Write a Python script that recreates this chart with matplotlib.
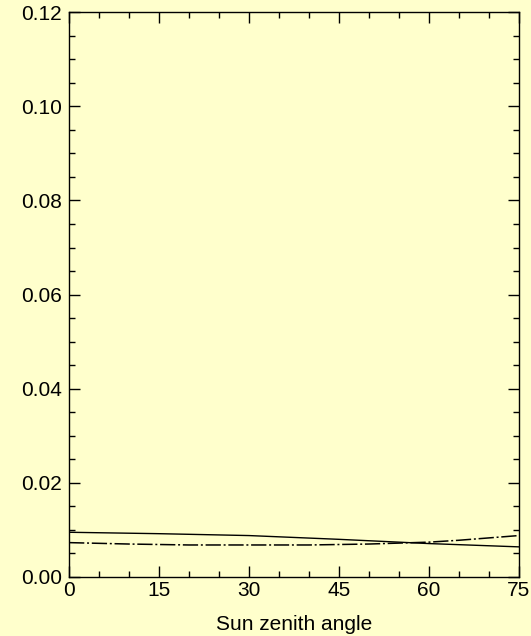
import matplotlib
matplotlib.use("Agg")
import matplotlib.pyplot as plt
from matplotlib.ticker import MultipleLocator

# Sun zenith angle (degrees) and the two curves
sza_solid = [0, 15, 30, 45, 60, 75]
val_solid = [0.0095, 0.0092, 0.0088, 0.0080, 0.0071, 0.0064]

sza_dashdot = [0, 10, 20, 30, 40, 50, 55, 60, 65, 70, 75]
val_dashdot = [0.0073, 0.0070, 0.0068, 0.0068, 0.0068, 0.0070, 0.0072, 0.0074, 0.0078, 0.0083, 0.0088]

xticks = [0, 15, 30, 45, 60, 75]
yticks = [0.00, 0.02, 0.04, 0.06, 0.08, 0.10, 0.12]

bg = "#FFFFCC"
plt.rcParams["font.family"] = ["Liberation Sans", "DejaVu Sans"]

fig = plt.figure(figsize=(5.31, 6.36), dpi=100, facecolor=bg)
ax = fig.add_axes([0.130, 0.0928, 0.847, 0.888], facecolor=bg)

ax.plot(sza_solid, val_solid, color="black", lw=1.0, ls="-")
ax.plot(sza_dashdot, val_dashdot, color="black", lw=1.1, ls=(0, (10, 1.8, 1.3, 1.8)))

ax.set_xlim(0, 75)
ax.set_ylim(0, 0.12)
ax.set_xticks(xticks)
ax.set_xticklabels([str(v) for v in xticks])
ax.set_yticks(yticks)
ax.set_yticklabels([f"{v:.2f}" for v in yticks])
ax.xaxis.set_minor_locator(MultipleLocator(5))
ax.yaxis.set_minor_locator(MultipleLocator(0.005))

ax.tick_params(which="both", direction="in", top=True, right=True,
               color="black", labelsize=15, width=1)
ax.tick_params(which="major", length=8)
ax.tick_params(which="minor", length=4.5)
ax.tick_params(axis="y", which="major", pad=5)
ax.tick_params(axis="x", which="major", pad=3)
for s in ax.spines.values():
    s.set_linewidth(1.0)
    s.set_color("black")

ax.set_xlabel("Sun zenith angle", fontsize=15, labelpad=10.5)

fig.savefig("out.png", dpi=100, facecolor=bg)
